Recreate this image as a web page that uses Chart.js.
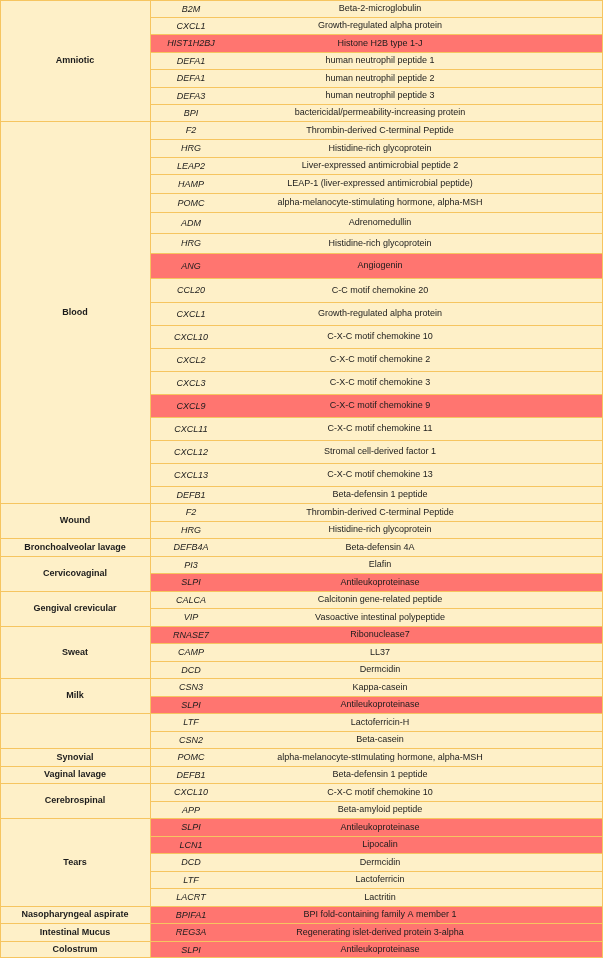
<!DOCTYPE html>
<html><head><meta charset="utf-8">
<script src="https://cdn.jsdelivr.net/npm/chart.js@4.4.1/dist/chart.umd.min.js"></script>
<style>html,body{margin:0;padding:0;background:#fff;overflow:hidden}canvas{display:block}</style>
</head><body>
<canvas id="c" width="603" height="959"></canvas>
<script>
// ---- data ----
const tissues = ['Amniotic','Blood','Wound','Bronchoalveolar lavage','Cervicovaginal','Gengival crevicular','Sweat','Milk','','Synovial','Vaginal lavage','Cerebrospinal','Tears','Nasopharyngeal aspirate','Intestinal Mucus','Colostrum'];
const tissueRowCounts = [7,18,2,1,2,2,3,2,2,1,1,2,5,1,1,1];
const genes = ['B2M','CXCL1','HIST1H2BJ','DEFA1','DEFA1','DEFA3','BPI',
  'F2','HRG','LEAP2','HAMP','POMC','ADM','HRG','ANG','CCL20','CXCL1','CXCL10','CXCL2','CXCL3','CXCL9','CXCL11','CXCL12','CXCL13','DEFB1',
  'F2','HRG','DEFB4A','PI3','SLPI','CALCA','VIP','RNASE7','CAMP','DCD','CSN3','SLPI','LTF','CSN2','POMC','DEFB1','CXCL10','APP',
  'SLPI','LCN1','DCD','LTF','LACRT','BPIFA1','REG3A','SLPI'];
const descriptions = ['Beta-2-microglobulin','Growth-regulated alpha protein','Histone H2B type 1-J','human neutrophil peptide 1','human neutrophil peptide 2','human neutrophil peptide 3','bactericidal/permeability-increasing protein',
  'Thrombin-derived C-terminal Peptide','Histidine-rich glycoprotein','Liver-expressed antimicrobial peptide 2','LEAP-1 (liver-expressed antimicrobial peptide)','alpha-melanocyte-stimulating hormone, alpha-MSH','Adrenomedullin','Histidine-rich glycoprotein','Angiogenin','C-C motif chemokine 20','Growth-regulated alpha protein','C-X-C motif chemokine 10','C-X-C motif chemokine 2','C-X-C motif chemokine 3','C-X-C motif chemokine 9','C-X-C motif chemokine 11','Stromal cell-derived factor 1','C-X-C motif chemokine 13','Beta-defensin 1 peptide',
  'Thrombin-derived C-terminal Peptide','Histidine-rich glycoprotein','Beta-defensin 4A','Elafin','Antileukoproteinase','Calcitonin gene-related peptide','Vasoactive intestinal polypeptide','Ribonuclease7','LL37','Dermcidin','Kappa-casein','Antileukoproteinase','Lactoferricin-H','Beta-casein','alpha-melanocyte-stImulating hormone, alpha-MSH','Beta-defensin 1 peptide','C-X-C motif chemokine 10','Beta-amyloid peptide',
  'Antileukoproteinase','Lipocalin','Dermcidin','Lactoferricin','Lactritin','BPI fold-containing family A member 1','Regenerating islet-derived protein 3-alpha','Antileukoproteinase'];
const highlightedRows = [2,14,20,29,32,36,43,44,48,49,50];

// ---- layout (pixel units of the table) ----
const W = 603, H = 959;
const ROW_HEIGHTS = [17,17,18,17,18,17,17,
  18,18,17,19,19,21,20,25,24,23,23,23,23,23,23,23,23,
  17,18,17,18,17,18,17,18,17,18,17,18,17,18,17,18,17,18,17,18,17,18,17,18,17,18,17];
const COL_TISSUE_END = 151, TISSUE_X = 75, GENE_X = 191, DESC_X = 380;
const CREAM = '#FEF0C8', RED = '#FF7570', GOLD = '#F6C560', TEXT = '#1c1c1c';
const FONT = '"Liberation Sans", Arial, sans-serif';

const rowTops = []; let acc = 0;
ROW_HEIGHTS.forEach(h => { rowTops.push(acc); acc += h; });

const datasets = [];
genes.forEach((g, i) => {
  const last = i === genes.length - 1;
  datasets.push({
    label: g, kind: 'row', idx: i,
    data: [{ y: rowTops[i] + ROW_HEIGHTS[i] / 2, x: [COL_TISSUE_END, W] }],
    barThickness: ROW_HEIGHTS[i],
    backgroundColor: highlightedRows.includes(i) ? RED : CREAM,
    borderColor: GOLD,
    borderWidth: { top: 1, right: 1, bottom: last ? 1 : 0, left: 0 },
    borderSkipped: false, grouped: false, inflateAmount: 0
  });
});
let start = 0;
tissues.forEach((t, k) => {
  const n = tissueRowCounts[k];
  const top = rowTops[start];
  let h = 0; for (let j = start; j < start + n; j++) h += ROW_HEIGHTS[j];
  const last = k === tissues.length - 1;
  datasets.push({
    label: t, kind: 'tissue', idx: k,
    data: [{ y: top + h / 2, x: [0, COL_TISSUE_END] }],
    barThickness: h,
    backgroundColor: CREAM,
    borderColor: GOLD,
    borderWidth: { top: 1, right: 1, bottom: last ? 1 : 0, left: 1 },
    borderSkipped: false, grouped: false, inflateAmount: 0
  });
  start += n;
});

const textPlugin = {
  id: 'cellText',
  afterDatasetsDraw(chart) {
    const ctx = chart.ctx, xs = chart.scales.x;
    chart.data.datasets.forEach((ds, di) => {
      const el = chart.getDatasetMeta(di).data[0];
      ctx.save();
      ctx.fillStyle = TEXT; ctx.textAlign = 'center'; ctx.textBaseline = 'middle';
      const y = el.y + 0.5;
      if (ds.kind === 'row') {
        ctx.font = 'italic 9px ' + FONT;
        ctx.fillText(genes[ds.idx], xs.getPixelForValue(GENE_X), y);
        ctx.font = '9px ' + FONT;
        ctx.fillText(descriptions[ds.idx], xs.getPixelForValue(DESC_X), y);
      } else {
        ctx.font = 'bold 9px ' + FONT;
        ctx.fillText(tissues[ds.idx], xs.getPixelForValue(TISSUE_X), y);
      }
      ctx.restore();
    });
  }
};

new Chart(document.getElementById('c'), {
  type: 'bar',
  data: { datasets },
  options: {
    indexAxis: 'y',
    responsive: false,
    animation: false,
    layout: { padding: 0 },
    plugins: { legend: { display: false }, tooltip: { enabled: false } },
    scales: {
      x: { type: 'linear', min: 0, max: W, display: false, offset: false },
      y: { type: 'linear', min: 0, max: H, reverse: true, display: false, offset: false }
    }
  },
  plugins: [textPlugin]
});
</script>
</body></html>
